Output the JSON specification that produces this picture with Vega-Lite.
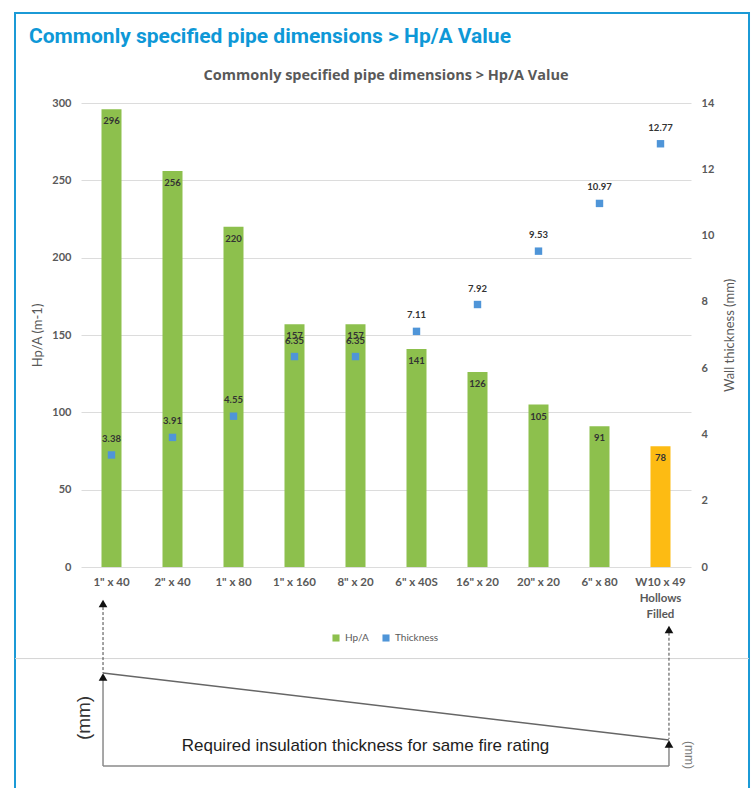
{
  "$schema": "https://vega.github.io/schema/vega-lite/v6.json",
  "width": 610,
  "height": 464,
  "padding": {"left": 13, "top": 11, "right": 0, "bottom": 0},
  "autosize": {"type": "pad"},
  "background": "white",
  "config": {
    "font": "Lato",
    "view": {"stroke": null},
    "axis": {"labelFont": "Lato", "labelFontSize": 11, "labelColor": "#595959", "labelFontWeight": "bold", "titleFont": "Lato", "titleFontSize": 13, "titleColor": "#595959", "titleFontWeight": "normal"},
    "legend": {"labelFont": "Lato"}
  },
  "data": {
    "values": [
      {"pipe": "1\" x 40", "hpa": 296, "thick": 3.38},
      {"pipe": "2\" x 40", "hpa": 256, "thick": 3.91},
      {"pipe": "1\" x 80", "hpa": 220, "thick": 4.55},
      {"pipe": "1\" x 160", "hpa": 157, "thick": 6.35},
      {"pipe": "8\" x 20", "hpa": 157, "thick": 6.35},
      {"pipe": "6\" x 40S", "hpa": 141, "thick": 7.11},
      {"pipe": "16\" x 20", "hpa": 126, "thick": 7.92},
      {"pipe": "20\" x 20", "hpa": 105, "thick": 9.53},
      {"pipe": "6\" x 80", "hpa": 91, "thick": 10.97},
      {"pipe": "W10 x 49 Hollows Filled", "hpa": 78, "thick": 12.77}
    ]
  },
  "layer": [
    {
      "encoding": {
        "x": {"field": "pipe", "type": "nominal", "sort": null,
              "scale": {"paddingInner": 0.672, "paddingOuter": 0.336},
              "axis": {"title": null, "labelAngle": 0, "domain": false, "ticks": false, "labelPadding": 9, "labelLineHeight": 16, "labelFontSize": 11.5,
                       "labelExpr": "datum.value == 'W10 x 49 Hollows Filled' ? ['W10 x 49', 'Hollows', 'Filled'] : datum.value"}},
        "y": {"field": "hpa", "type": "quantitative",
              "scale": {"domain": [0, 300], "nice": false},
              "axis": {"title": "Hp/A (m-1)", "values": [0, 50, 100, 150, 200, 250, 300], "domain": false, "ticks": false, "labelPadding": 10, "gridColor": "#DCDCDC", "titlePadding": 7}}
      },
      "layer": [
        {
          "mark": {"type": "bar"},
          "encoding": {
            "color": {"datum": "Hp/A", "type": "nominal",
                      "condition": {"test": "datum.pipe == 'W10 x 49 Hollows Filled'", "value": "#FDBB13"},
                      "scale": {"domain": ["Hp/A", "Thickness"], "range": ["#8DC04D", "#4F95D8"]},
                      "legend": {"title": null, "orient": "none", "legendX": 250, "legendY": 530, "direction": "horizontal", "symbolType": "square", "symbolSize": 50, "labelFontSize": 10, "labelColor": "#595959", "columnPadding": 12, "padding": 0, "labelOffset": 4}}
          }
        },
        {
          "mark": {"type": "text", "dy": 12, "fontSize": 9.5, "fontWeight": "bold", "color": "#333333", "baseline": "middle"},
          "encoding": {"text": {"field": "hpa", "type": "quantitative"}}
        }
      ]
    },
    {
      "encoding": {
        "x": {"field": "pipe", "type": "nominal", "sort": null,
              "scale": {"paddingInner": 0.672, "paddingOuter": 0.336}, "axis": null},
        "y": {"field": "thick", "type": "quantitative",
              "scale": {"domain": [0, 14], "nice": false},
              "axis": {"orient": "right", "title": "Wall thickness (mm)", "titleAngle": 270, "values": [0, 2, 4, 6, 8, 10, 12, 14], "grid": false, "domain": false, "ticks": false, "labelPadding": 10, "titlePadding": 23}}
      },
      "layer": [
        {
          "mark": {"type": "square", "size": 55, "opacity": 1},
          "encoding": {"color": {"datum": "Thickness", "type": "nominal"}}
        },
        {
          "mark": {"type": "text", "dy": -16, "fontSize": 9.5, "fontWeight": "bold", "color": "#333333", "baseline": "middle"},
          "encoding": {"text": {"field": "thick", "type": "quantitative", "format": ".2f"}}
        }
      ]
    },
    {
      "data": {"values": [{}]},
      "layer": [
        {
          "mark": {"type": "rect", "filled": false, "stroke": "#1B9AD6", "strokeWidth": 2},
          "encoding": {
            "x": {"datum": -1.582, "type": "quantitative", "scale": {"domain": [-0.5, 9.5], "nice": false, "zero": false}, "axis": null},
            "x2": {"datum": 10.451},
            "y": {"datum": 358.2, "type": "quantitative", "scale": {"domain": [0, 300], "nice": false, "zero": false}, "axis": null},
            "y2": {"datum": -151.3}
          }
        },
        {
          "mark": {"type": "rule", "color": "#D4D4D4", "strokeWidth": 1},
          "encoding": {
            "x": {"datum": -1.582, "type": "quantitative", "scale": {"domain": [-0.5, 9.5], "nice": false, "zero": false}, "axis": null},
            "x2": {"datum": 10.451},
            "y": {"datum": -59.2, "type": "quantitative", "scale": {"domain": [0, 300], "nice": false, "zero": false}, "axis": null}
          }
        },
        {
          "mark": {"type": "rule", "color": "#444444", "strokeWidth": 1, "strokeDash": [3, 2]},
          "encoding": {
            "x": {"datum": -0.139, "type": "quantitative", "scale": {"domain": [-0.5, 9.5], "nice": false, "zero": false}, "axis": null},
            "y": {"datum": -25.9, "type": "quantitative", "scale": {"domain": [0, 300], "nice": false, "zero": false}, "axis": null},
            "y2": {"datum": -68.5}
          }
        },
        {
          "mark": {"type": "rule", "color": "#444444", "strokeWidth": 1, "strokeDash": [3, 2]},
          "encoding": {
            "x": {"datum": 9.139, "type": "quantitative", "scale": {"domain": [-0.5, 9.5], "nice": false, "zero": false}, "axis": null},
            "y": {"datum": -42.5, "type": "quantitative", "scale": {"domain": [0, 300], "nice": false, "zero": false}, "axis": null},
            "y2": {"datum": -111.2}
          }
        },
        {
          "mark": {"type": "rule", "color": "#8A8A8A", "strokeWidth": 1.5},
          "encoding": {
            "x": {"datum": -0.139, "type": "quantitative", "scale": {"domain": [-0.5, 9.5], "nice": false, "zero": false}, "axis": null},
            "y": {"datum": -71, "type": "quantitative", "scale": {"domain": [0, 300], "nice": false, "zero": false}, "axis": null},
            "y2": {"datum": -128.7}
          }
        },
        {
          "mark": {"type": "rule", "color": "#8A8A8A", "strokeWidth": 1.5},
          "encoding": {
            "x": {"datum": -0.139, "type": "quantitative", "scale": {"domain": [-0.5, 9.5], "nice": false, "zero": false}, "axis": null},
            "x2": {"datum": 9.139},
            "y": {"datum": -128.7, "type": "quantitative", "scale": {"domain": [0, 300], "nice": false, "zero": false}, "axis": null}
          }
        },
        {
          "mark": {"type": "rule", "color": "#8A8A8A", "strokeWidth": 1.5},
          "encoding": {
            "x": {"datum": 9.139, "type": "quantitative", "scale": {"domain": [-0.5, 9.5], "nice": false, "zero": false}, "axis": null},
            "y": {"datum": -114.4, "type": "quantitative", "scale": {"domain": [0, 300], "nice": false, "zero": false}, "axis": null},
            "y2": {"datum": -128.7}
          }
        },
        {
          "mark": {"type": "rule", "color": "#666666", "strokeWidth": 1.5},
          "encoding": {
            "x": {"datum": -0.139, "type": "quantitative", "scale": {"domain": [-0.5, 9.5], "nice": false, "zero": false}, "axis": null},
            "x2": {"datum": 9.139},
            "y": {"datum": -68.5, "type": "quantitative", "scale": {"domain": [0, 300], "nice": false, "zero": false}, "axis": null},
            "y2": {"datum": -111.9}
          }
        },
        {
          "mark": {"type": "point", "shape": "triangle-up", "filled": true, "color": "#111111", "size": 75, "opacity": 1},
          "encoding": {
            "x": {"datum": -0.139, "type": "quantitative", "scale": {"domain": [-0.5, 9.5], "nice": false, "zero": false}, "axis": null},
            "y": {"datum": -23.6, "type": "quantitative", "scale": {"domain": [0, 300], "nice": false, "zero": false}, "axis": null}
          }
        },
        {
          "mark": {"type": "point", "shape": "triangle-up", "filled": true, "color": "#111111", "size": 75, "opacity": 1},
          "encoding": {
            "x": {"datum": -0.139, "type": "quantitative", "scale": {"domain": [-0.5, 9.5], "nice": false, "zero": false}, "axis": null},
            "y": {"datum": -71.1, "type": "quantitative", "scale": {"domain": [0, 300], "nice": false, "zero": false}, "axis": null}
          }
        },
        {
          "mark": {"type": "point", "shape": "triangle-up", "filled": true, "color": "#111111", "size": 75, "opacity": 1},
          "encoding": {
            "x": {"datum": 9.139, "type": "quantitative", "scale": {"domain": [-0.5, 9.5], "nice": false, "zero": false}, "axis": null},
            "y": {"datum": -40.4, "type": "quantitative", "scale": {"domain": [0, 300], "nice": false, "zero": false}, "axis": null}
          }
        },
        {
          "mark": {"type": "point", "shape": "triangle-up", "filled": true, "color": "#111111", "size": 75, "opacity": 1},
          "encoding": {
            "x": {"datum": 9.139, "type": "quantitative", "scale": {"domain": [-0.5, 9.5], "nice": false, "zero": false}, "axis": null},
            "y": {"datum": -114.4, "type": "quantitative", "scale": {"domain": [0, 300], "nice": false, "zero": false}, "axis": null}
          }
        },
        {
          "mark": {"type": "text", "text": "Commonly specified pipe dimensions > Hp/A Value", "align": "left", "baseline": "middle", "font": "Roboto", "fontSize": 21, "fontWeight": "bold", "color": "#0E98D7"},
          "encoding": {
            "x": {"datum": -1.352, "type": "quantitative", "scale": {"domain": [-0.5, 9.5], "nice": false, "zero": false}, "axis": null},
            "y": {"datum": 342.7, "type": "quantitative", "scale": {"domain": [0, 300], "nice": false, "zero": false}, "axis": null}
          }
        },
        {
          "mark": {"type": "text", "text": "Commonly specified pipe dimensions > Hp/A Value", "align": "center", "baseline": "middle", "font": "Open Sans", "fontSize": 14.5, "fontWeight": "bold", "color": "#595959"},
          "encoding": {
            "x": {"datum": 4.5, "type": "quantitative", "scale": {"domain": [-0.5, 9.5], "nice": false, "zero": false}, "axis": null},
            "y": {"datum": 317.5, "type": "quantitative", "scale": {"domain": [0, 300], "nice": false, "zero": false}, "axis": null}
          }
        },
        {
          "mark": {"type": "text", "text": "Required insulation thickness for same fire rating", "align": "center", "baseline": "middle", "font": "Liberation Sans", "fontSize": 17, "color": "#1E1E1E"},
          "encoding": {
            "x": {"datum": 4.164, "type": "quantitative", "scale": {"domain": [-0.5, 9.5], "nice": false, "zero": false}, "axis": null},
            "y": {"datum": -115.7, "type": "quantitative", "scale": {"domain": [0, 300], "nice": false, "zero": false}, "axis": null}
          }
        },
        {
          "mark": {"type": "text", "text": "(mm)", "align": "center", "baseline": "middle", "angle": 270, "font": "Liberation Sans", "fontSize": 19, "color": "#333333"},
          "encoding": {
            "x": {"datum": -0.451, "type": "quantitative", "scale": {"domain": [-0.5, 9.5], "nice": false, "zero": false}, "axis": null},
            "y": {"datum": -97.6, "type": "quantitative", "scale": {"domain": [0, 300], "nice": false, "zero": false}, "axis": null}
          }
        },
        {
          "mark": {"type": "text", "text": "(mm)", "align": "center", "baseline": "middle", "angle": 90, "font": "Liberation Sans", "fontSize": 12, "color": "#777777"},
          "encoding": {
            "x": {"datum": 9.467, "type": "quantitative", "scale": {"domain": [-0.5, 9.5], "nice": false, "zero": false}, "axis": null},
            "y": {"datum": -121.6, "type": "quantitative", "scale": {"domain": [0, 300], "nice": false, "zero": false}, "axis": null}
          }
        }
      ]
    }
  ],
  "resolve": {"scale": {"x": "independent", "y": "independent"}}
}
